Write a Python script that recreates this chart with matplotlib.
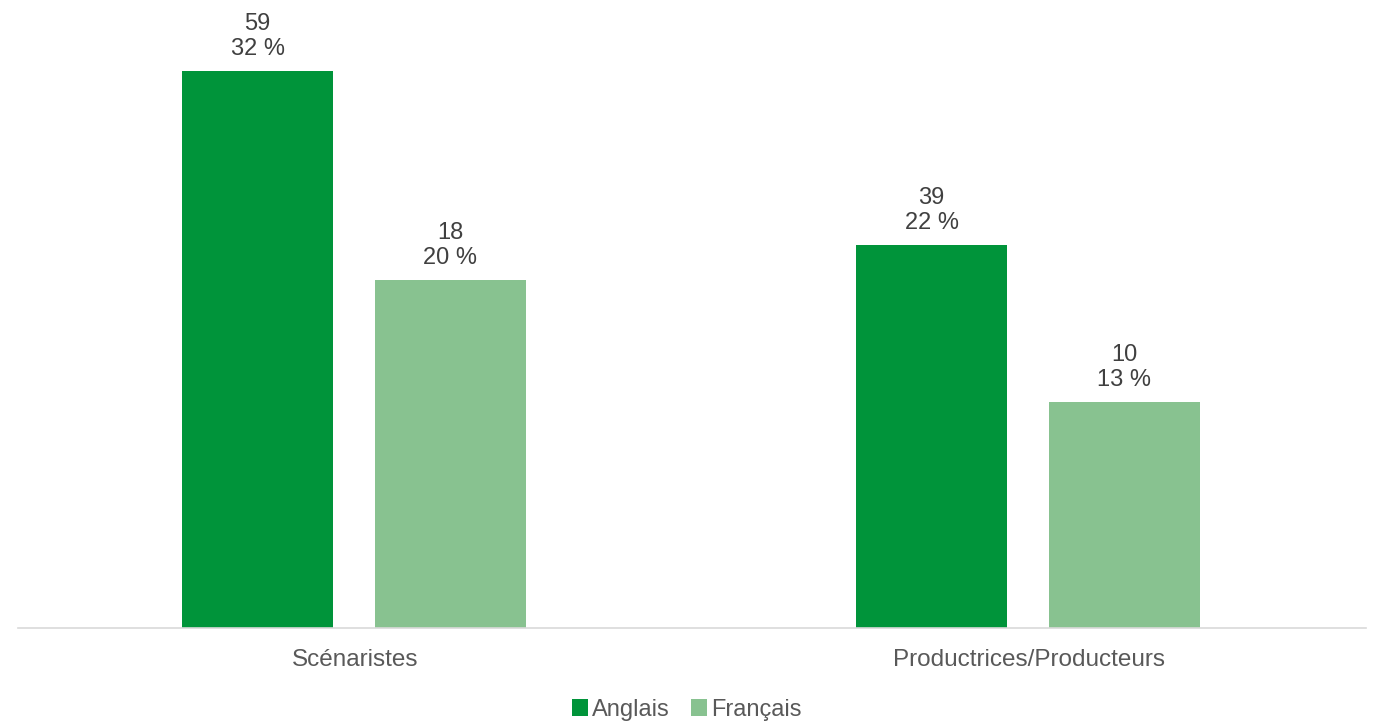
import numpy as np
import matplotlib.pyplot as plt

categories = ['Scénaristes', 'Productrices/Producteurs']
series = ['Anglais', 'Français']
counts = {'Anglais': [59, 39], 'Français': [18, 10]}
percents = {'Anglais': [32, 22], 'Français': [20, 13]}
colors = {'Anglais': '#00943A', 'Français': '#88C290'}

plt.rcParams['font.family'] = ['Liberation Sans', 'DejaVu Sans']

fig = plt.figure(figsize=(13.73, 7.22), dpi=100)
ax = fig.add_axes([18 / 1373, 1 - 628 / 722, 1348 / 1373, 628 / 722])

x = np.arange(len(categories))
width = 0.224
offsets = [-0.1445, 0.1410]

for s, off in zip(series, offsets):
    bars = ax.bar(x + off, percents[s], width, color=colors[s], label=s, zorder=2)
    for b, n, p in zip(bars, counts[s], percents[s]):
        ax.annotate(f'{n}\n{p} %', (b.get_x() + b.get_width() / 2, b.get_height()),
                    xytext=(0, 8), textcoords='offset points', ha='center', va='bottom',
                    fontsize=17, color='#404040', linespacing=1.15)

ax.set_xlim(-0.5, 1.5)
ax.set_ylim(0, 628 / (557 / 32))
ax.set_xticks(x)
ax.set_xticklabels(categories, fontsize=17.5, color='#595959')
ax.tick_params(axis='x', length=0, pad=15)
ax.set_yticks([])
for sp in ['top', 'right', 'left']:
    ax.spines[sp].set_visible(False)
ax.spines['bottom'].set_color('#d9d9d9')
ax.spines['bottom'].set_linewidth(1.2)

leg = fig.legend(loc='center', bbox_to_anchor=(0.5, 1 - 710 / 722), ncol=2, frameon=False,
                 fontsize=17, handlelength=0.7, handleheight=0.7, handletextpad=0.15,
                 columnspacing=0.9, borderaxespad=0, borderpad=0)
for t in leg.get_texts():
    t.set_color('#595959')

fig.savefig('out.png', dpi=100)
